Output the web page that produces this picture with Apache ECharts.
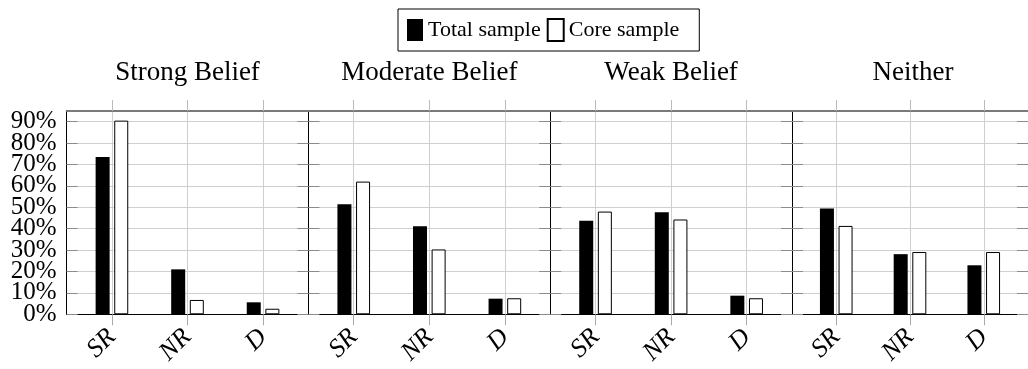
<!DOCTYPE html>
<html>
<head>
<meta charset="utf-8">
<script src="https://cdn.jsdelivr.net/npm/echarts@6/dist/echarts.min.js"></script>
<style>
  html, body { margin: 0; padding: 0; background: #fff; }
  #chart { width: 1028px; height: 369px; }
</style>
</head>
<body>
<div id="chart"></div>
<script>
const categories = ['SR', 'NR', 'D']
const panelTitles = ['Strong Belief', 'Moderate Belief', 'Weak Belief', 'Neither']
const yTicks = [0, 10, 20, 30, 40, 50, 60, 70, 80, 90]

// percentages, one row per panel, in category order SR / NR / D
const totalSample = [
  [73.5, 21.0, 5.6],
  [51.4, 41.2, 7.3],
  [43.7, 47.7, 8.7],
  [49.4, 28.1, 22.9],
]
const coreSample = [
  [90.5, 6.7, 2.6],
  [62.0, 30.3, 7.5],
  [48.0, 44.3, 7.5],
  [41.3, 29.1, 29.1],
]

const FONT = 'Liberation Serif'
const panelLeft = 66.6
const panelWidth = 241.8
const gridTop = 111
const gridHeight = 203.3
const tickIdx = categories.map((c, i) => i)

// the y labels overlap each other like in the original, so they are split over two
// axes (even / odd) to keep echarts from dropping any of them
const evenTicks = yTicks.filter((v, i) => i % 2 === 0)
const oddTicks = yTicks.filter((v, i) => i % 2 === 1)

const yLabelStyle = {
  formatter: '{value}%',
  margin: 10,
  showMinLabel: true,
  showMaxLabel: true,
  hideOverlap: false,
  fontFamily: FONT,
  fontSize: 25,
  color: '#000',
}

const chart = echarts.init(document.getElementById('chart'))

const grids = []
const xAxes = []
const yAxes = []
const titles = []
const series = []

panelTitles.forEach((name, i) => {
  const left = panelLeft + i * panelWidth
  grids.push({ left: left, top: gridTop, width: panelWidth, height: gridHeight })

  titles.push({
    text: name,
    left: left + panelWidth / 2,
    top: 59,
    padding: 0,
    textAlign: 'center',
    textStyle: { fontFamily: FONT, fontSize: 27, fontWeight: 'normal', color: '#000' },
  })

  // bottom axis: labels, ticks and vertical grid
  xAxes.push({
    type: 'value',
    gridIndex: i,
    position: 'bottom',
    min: -0.6,
    max: 2.6,
    axisLine: { show: true, onZero: false, lineStyle: { color: '#000', width: 1 } },
    axisTick: { show: true, inside: false, length: 11, customValues: tickIdx, lineStyle: { color: '#aaa' } },
    axisLabel: {
      customValues: tickIdx,
      formatter: (v) => categories[Math.round(v)],
      rotate: 45,
      margin: 19,
      hideOverlap: false,
      fontFamily: FONT,
      fontStyle: 'italic',
      fontSize: 26,
      color: '#000',
    },
    splitLine: { show: true, lineStyle: { color: '#cfcfcf', width: 1 } },
  })
  // top axis: frame and tick stubs above it
  xAxes.push({
    type: 'value',
    gridIndex: i,
    position: 'top',
    min: -0.6,
    max: 2.6,
    axisLine: { show: true, onZero: false, lineStyle: { color: '#7a7a7a', width: 2 } },
    axisTick: { show: true, inside: false, length: 11, customValues: tickIdx, lineStyle: { color: '#bbb' } },
    axisLabel: { show: false },
    splitLine: { show: false },
  })

  yAxes.push({
    type: 'value',
    gridIndex: i,
    position: 'left',
    min: 0,
    max: 95,
    axisLine: { show: true, onZero: false, lineStyle: { color: '#000', width: 1 } },
    axisTick: { show: true, inside: true, length: 11, customValues: yTicks, lineStyle: { color: '#8c8c8c' } },
    axisLabel: Object.assign({ show: i === 0, customValues: evenTicks }, yLabelStyle),
    splitLine: { show: true, lineStyle: { color: '#cfcfcf', width: 1 } },
  })
  yAxes.push({
    type: 'value',
    gridIndex: i,
    position: 'right',
    min: 0,
    max: 95,
    axisLine: { show: true, onZero: false, lineStyle: { color: '#000', width: 1 } },
    axisTick: { show: true, inside: true, length: 11, customValues: yTicks, lineStyle: { color: '#8c8c8c' } },
    axisLabel: { show: false },
    splitLine: { show: false },
  })

  series.push({
    name: 'Total sample',
    type: 'bar',
    xAxisIndex: i * 2,
    yAxisIndex: i * 2,
    barWidth: 14,
    barGap: '33%',
    itemStyle: { color: '#000' },
    data: totalSample[i].map((v, j) => [j, v]),
  })
  series.push({
    name: 'Core sample',
    type: 'bar',
    xAxisIndex: i * 2,
    yAxisIndex: i * 2,
    barWidth: 14,
    barGap: '33%',
    itemStyle: { color: '#fff', borderColor: '#000', borderWidth: 1 },
    data: coreSample[i].map((v, j) => [j, v]),
  })
})

// overlay grid on the first panel that only carries the odd y labels
const labelGrid = grids.length
grids.push({ left: panelLeft, top: gridTop, width: panelWidth, height: gridHeight })
xAxes.push({ type: 'value', gridIndex: labelGrid, min: 0, max: 1, show: false })
yAxes.push({
  type: 'value',
  gridIndex: labelGrid,
  position: 'left',
  min: 0,
  max: 95,
  axisLine: { show: false },
  axisTick: { show: false },
  splitLine: { show: false },
  axisLabel: Object.assign({ show: true, customValues: oddTicks }, yLabelStyle),
})

const option = {
  animation: false,
  backgroundColor: '#fff',
  title: titles,
  legend: {
    data: ['Total sample', 'Core sample'],
    left: 398,
    top: 9,
    padding: [9, 20, 9, 9],
    itemWidth: 16,
    itemHeight: 22,
    itemGap: 6,
    icon: 'rect',
    borderColor: '#000',
    borderWidth: 1,
    textStyle: { fontFamily: FONT, fontSize: 22, color: '#000' },
  },
  grid: grids,
  xAxis: xAxes,
  yAxis: yAxes,
  series: series,
}

chart.setOption(option)
</script>
</body>
</html>
